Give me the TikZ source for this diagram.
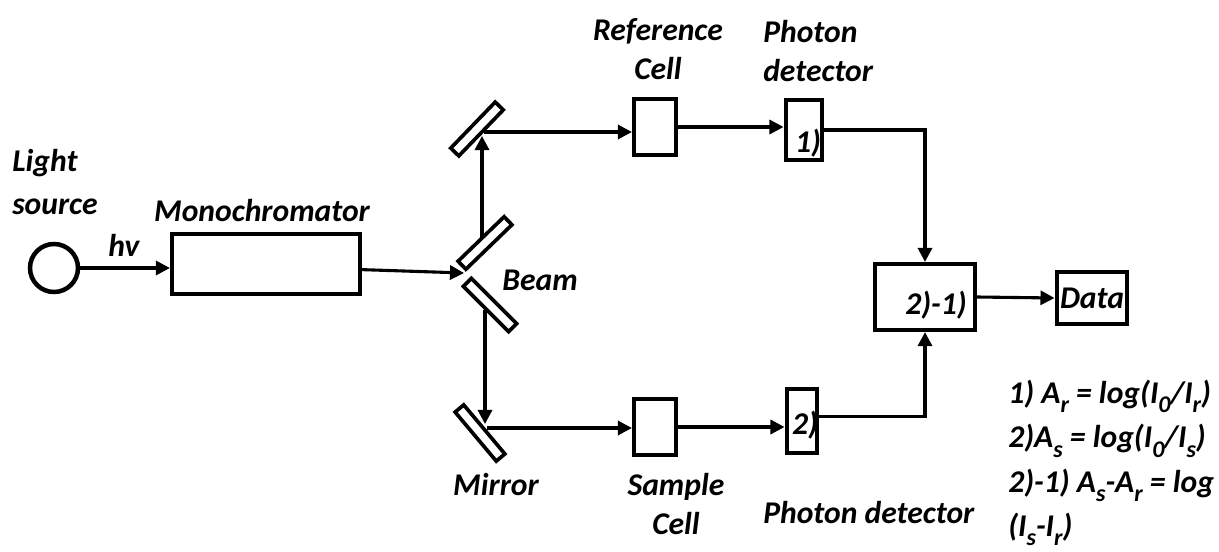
\documentclass[tikz,border=0pt]{standalone}
\usepackage{fontspec}
\setmainfont{Carlito}
\usetikzlibrary{
    positioning,
    arrows.meta,
}
\tikzset{
    % Box styles
    box/.style={rectangle, draw, line width=3.2pt, inner sep=0pt},
    mirror/.style={rectangle, draw, line width=2.6pt, minimum width=1.6cm,
                   minimum height=0.28cm, inner sep=0pt},
    % Arrow styles
    arrow/.style={-{Triangle[length=10pt, width=10pt]}, line width=2.2pt},
    wire/.style={line width=2.2pt},
    % Text styles
    lbl/.style={font=\fontsize{22.5}{28}\selectfont\bfseries\itshape, inner sep=0pt},
}
\newcommand{\dn}[1]{\raisebox{-0.6ex}{\fontsize{17}{17}\selectfont #1}}

\begin{document}
\begin{tikzpicture}[x=0.025cm, y=-0.025cm]
    \useasboundingbox (0,0) rectangle (1219,552);

    % Source and monochromator
    \node[circle, draw, line width=3.2pt, minimum size=1.2cm, inner sep=0pt] (src) at (54,268) {};
    \node[box, minimum width=4.69cm, minimum height=1.49cm] (mono) at (266,264) {};

    % Mirrors
    \node[mirror, rotate=44] (bsA) at (485,243) {};
    \node[mirror, rotate=-45] (bsB) at (490,305) {};
    \node[mirror, rotate=46] (mtop) at (477,129) {};
    \node[mirror, rotate=-50] (mbot) at (480,433) {};

    % Cells and detectors
    \node[box, minimum width=1.04cm, minimum height=1.41cm] (refcell) at (655,127) {};
    \node[box, minimum width=1.04cm, minimum height=1.41cm] (samcell) at (655,427) {};
    \node[box, minimum width=0.91cm, minimum height=1.51cm] (detA) at (804,130) {};
    \node[box, minimum width=0.76cm, minimum height=1.59cm] (detB) at (802,421) {};
    \node[box, minimum width=2.49cm, minimum height=1.64cm] (diff) at (925,297) {};
    \node[box, minimum width=1.76cm, minimum height=1.31cm] (data) at (1092,298) {};

    % Box texts
    \node[lbl] (detA txt) at (808,143) {1)};
    \node[lbl] (detB txt) at (805,425) {2)};
    \node[lbl] (diff txt) at (936,305) {2)-1)};
    \node[lbl] (data txt) at (1092,298) {Data};

    % Labels
    \node[lbl, align=left, anchor=west, font=\fontsize{22.5}{31}\selectfont\bfseries\itshape] (src lbl) at (12,182) {Light\\source};
    \node[lbl] (hv lbl) at (124,245) {hv};
    \node[lbl] (mono lbl) at (262,211) {Monochromator};
    \node[lbl] (beam lbl) at (540,280) {Beam};
    \node[lbl] (mirror lbl) at (496,485) {Mirror};
    \node[lbl, align=center] (ref lbl) at (658,49) {Reference\\Cell};
    \node[lbl, align=left, anchor=west] (detA lbl) at (763,51) {Photon\\detector};
    \node[lbl, align=center] (sam lbl) at (676,504) {Sample\\Cell};
    \node[lbl, anchor=west] (detB lbl) at (763,513) {Photon detector};
    \node[lbl, align=left, anchor=west, font=\fontsize{22.5}{31.5}\selectfont\bfseries\itshape] (eqs) at (1008,463)
        {1) A\dn{r} = log(I\dn{0}/I\dn{r})\\2)A\dn{s} = log(I\dn{0}/I\dn{s})\\2)-1) A\dn{s}-A\dn{r} = log\\(I\dn{s}-I\dn{r})};

    % Beam path
    \coordinate (split) at (464,273);
    \coordinate (bsA up) at (482,238);
    \coordinate (mtop hit) at (482,136);
    \coordinate (mtop out) at (484,132);
    \coordinate (bsB down) at (485,310);
    \coordinate (mbot hit) at (485,424);
    \coordinate (mbot out) at (487,428);

    % Arrows
    \draw[arrow] (src.east) -- (src.east -| mono.west);
    \draw[arrow] ([yshift=-4pt]mono.east) -- (split);
    \draw[arrow] (bsA up) -- (mtop hit);
    \draw[arrow] (mtop out) -- (mtop out -| refcell.west);
    \draw[arrow] (refcell.east) -- (refcell.east -| detA.west);
    \draw[arrow] (detA.east) -| (diff.north);
    \draw[arrow] (bsB down) -- (mbot hit);
    \draw[arrow] (mbot out) -- (mbot out -| samcell.west);
    \draw[arrow] (samcell.east) -- (samcell.east -| detB.west);
    \draw[arrow] ([yshift=3pt]detB.east) -| (diff.south);
    \draw[arrow] (diff.east) -- (data.west);
\end{tikzpicture}
\end{document}
